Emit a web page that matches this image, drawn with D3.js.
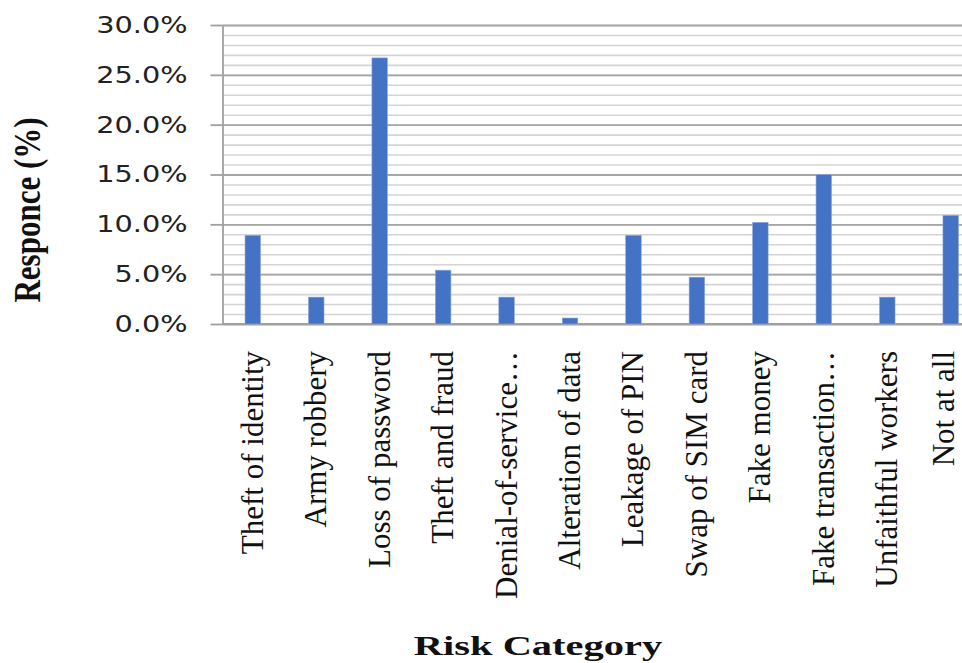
<!DOCTYPE html>
<html>
<head>
<meta charset="utf-8">
<script src="https://cdn.jsdelivr.net/npm/d3@7"></script>
<style>
  html, body { margin: 0; padding: 0; background: #fff; }
  #chart { width: 962px; height: 663px; overflow: hidden; }
</style>
</head>
<body>
<div id="chart"></div>
<script>
// Chart data
const categories = [
  'Theft of identity', 'Army robbery', 'Loss of password', 'Theft and fraud',
  'Denial-of-service\u2026', 'Alteration of data', 'Leakage of PIN', 'Swap of SIM card',
  'Fake money', 'Fake transaction\u2026', 'Unfaithful workers', 'Not at all'
];
const responses = [8.9, 2.7, 26.7, 5.4, 2.7, 0.6, 8.9, 4.7, 10.2, 15.0, 2.7, 10.9];
const majorTicks = [0, 5, 10, 15, 20, 25, 30];
const minorTicks = d3.range(0, 31, 1);

const W = 962, H = 663;
const plot = { left: 222.5, right: 981, top: 25, bottom: 324 };

const svg = d3.select('#chart').append('svg')
  .attr('width', W)
  .attr('height', H);

const x = d3.scaleBand()
  .domain(categories)
  .range([plot.left, plot.right])
  .paddingInner(0.755)
  .paddingOuter(0.355);

const y = d3.scaleLinear()
  .domain([0, 30])
  .range([plot.bottom, plot.top]);

// minor gridlines
svg.append('g')
  .attr('class', 'grid-minor')
  .attr('transform', `translate(${plot.left},0)`)
  .call(d3.axisLeft(y).tickValues(minorTicks).tickSize(-(W - plot.left)).tickFormat(''))
  .call(g => g.select('.domain').remove())
  .call(g => g.selectAll('line').attr('stroke', '#d4d4d4').attr('stroke-width', 1.6));

// major gridlines
svg.append('g')
  .attr('class', 'grid-major')
  .attr('transform', `translate(${plot.left},0)`)
  .call(d3.axisLeft(y).tickValues(majorTicks).tickSize(-(W - plot.left)).tickFormat(''))
  .call(g => g.select('.domain').remove())
  .call(g => g.selectAll('line').attr('stroke', '#a6a6a6').attr('stroke-width', 1.8));

// y axis with outside ticks
const yAxis = svg.append('g')
  .attr('transform', `translate(${plot.left},0)`)
  .call(d3.axisLeft(y).tickValues(majorTicks).tickSize(12).tickSizeOuter(0)
    .tickPadding(23).tickFormat(d => d.toFixed(1) + '%'));
yAxis.select('.domain').attr('stroke', '#a0a0a0').attr('stroke-width', 1.8);
yAxis.selectAll('.tick line').attr('stroke', '#a0a0a0').attr('stroke-width', 1.8);
yAxis.selectAll('.tick text')
  .attr('fill', '#222')
  .style('font-family', '"DejaVu Sans", Verdana, sans-serif')
  .style('font-size', '23px')
  .each(function() {
    const t = d3.select(this);
    const tx = +t.attr('x');
    t.attr('x', tx / 1.25).attr('transform', 'scale(1.25,1)');
  });

// x axis line
svg.append('line')
  .attr('x1', plot.left).attr('x2', W)
  .attr('y1', y(0)).attr('y2', y(0))
  .attr('stroke', '#a0a0a0').attr('stroke-width', 1.8);

// bars
svg.append('g').selectAll('rect')
  .data(categories)
  .enter().append('rect')
  .attr('x', (d) => x(d))
  .attr('width', x.bandwidth())
  .attr('y', (d, i) => y(responses[i]))
  .attr('height', (d, i) => y(0) - y(responses[i]))
  .attr('fill', '#4472c4')
  .attr('stroke', '#8fa9dc')
  .attr('stroke-width', 0.6);

// category labels (rotated)
svg.append('g').selectAll('text')
  .data(categories)
  .enter().append('text')
  .attr('transform', d => `translate(${x(d) + x.bandwidth() / 2}, 351) rotate(-90)`)
  .attr('text-anchor', 'end')
  .attr('dy', '0.32em')
  .style('font-family', '"Liberation Serif", "Times New Roman", serif')
  .style('font-size', '31px')
  .attr('fill', '#111')
  .text(d => d)
  .each(function(d) {
    // keep the last label inside the right edge
    const r = this.getBoundingClientRect();
    const over = r.right - (W - 1);
    if (over > 0) {
      d3.select(this).attr('transform',
        `translate(${x(d) + x.bandwidth() / 2 - over}, 351) rotate(-90)`);
    }
  });

// y axis title
svg.append('text')
  .attr('transform', 'translate(40, 210) rotate(-90) scale(1,1.2)')
  .attr('text-anchor', 'middle')
  .style('font-family', '"Liberation Serif", "Times New Roman", serif')
  .style('font-size', '31px')
  .style('font-weight', 'bold')
  .attr('fill', '#111')
  .text('Responce (%)');

// x axis title
svg.append('text')
  .attr('transform', 'translate(538, 655) scale(1.5,1)')
  .attr('text-anchor', 'middle')
  .style('font-family', '"Liberation Serif", "Times New Roman", serif')
  .style('font-size', '27px')
  .style('font-weight', 'bold')
  .attr('fill', '#111')
  .text('Risk Category');
</script>
</body>
</html>
